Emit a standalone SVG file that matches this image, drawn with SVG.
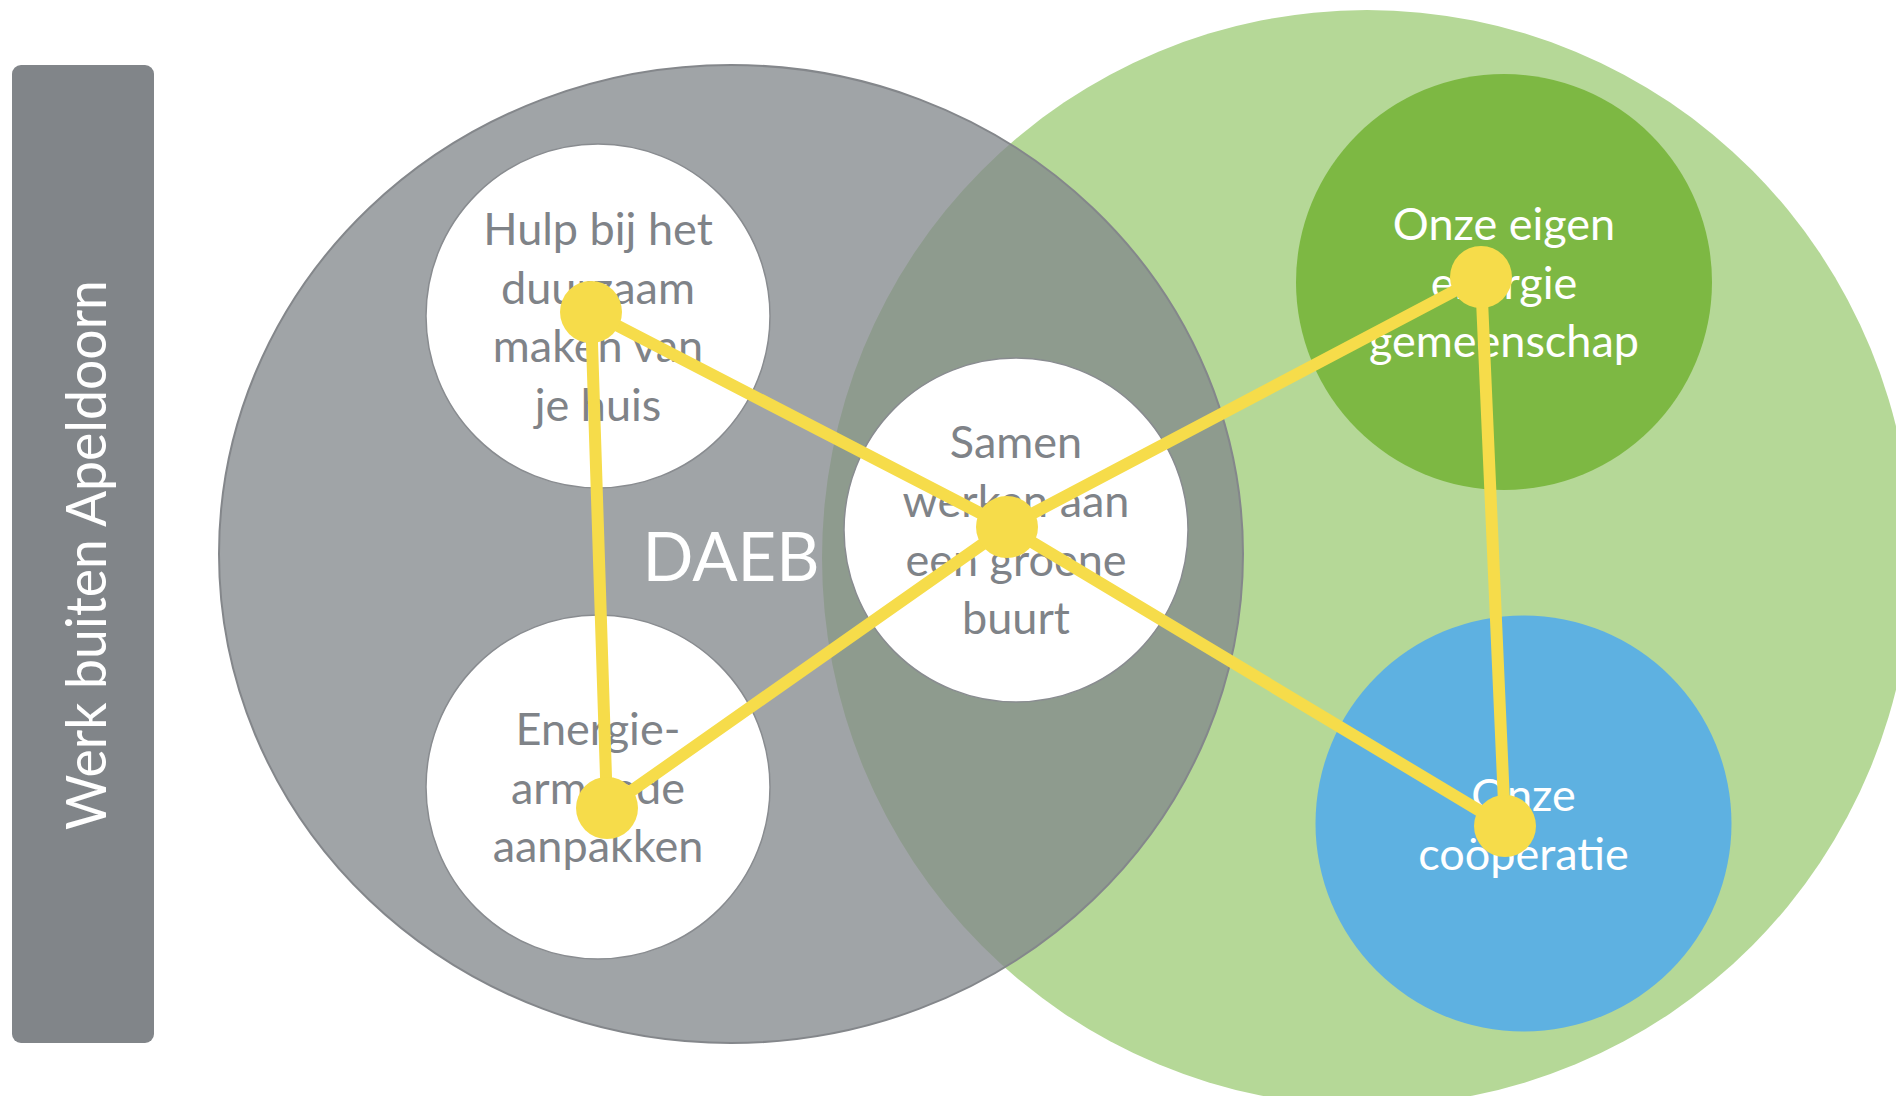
<svg xmlns="http://www.w3.org/2000/svg" width="1896" height="1096" viewBox="0 0 1896 1096">
  <style>
    .lbl { font-family: Lato, "Liberation Sans", sans-serif; font-size: 45px; text-anchor: middle; }
    .dark { fill: #7f8388; }
    .light { fill: #ffffff; }
    .inner { fill: #ffffff; stroke: #898c90; stroke-width: 1.5; }
    .link { stroke: #f6dc4a; stroke-width: 12; stroke-linecap: round; fill: none; }
    .dot { fill: #f6dc4a; }
  </style>
  <rect width="1896" height="1096" fill="#ffffff"/>

  <g id="bar">
    <rect x="12" y="65" width="142" height="978" rx="9" ry="9" fill="#818589"/>
    <text transform="translate(106,555) rotate(-90)" font-family="Lato, 'Liberation Sans', sans-serif" font-size="56" fill="#ffffff" text-anchor="middle" textLength="550" lengthAdjust="spacingAndGlyphs">Werk buiten Apeldoorn</text>
  </g>

  <g id="region-green">
    <ellipse cx="1367" cy="558" rx="545" ry="548" fill="#b5d897"/>
  </g>

  <g id="region-daeb">
    <ellipse cx="731" cy="554" rx="512" ry="489" fill="#82878b" fill-opacity="0.76" stroke="#84878b" stroke-width="2"/>
    <text x="731" y="581" font-family="Lato, 'Liberation Sans', sans-serif" font-size="67" fill="#ffffff" text-anchor="middle">DAEB</text>
  </g>

  <g id="node-hulp">
    <circle class="inner" cx="598" cy="316" r="172"/>
    <text class="lbl dark"><tspan x="598" y="245">Hulp bij het</tspan><tspan x="598" y="303.5">duurzaam</tspan><tspan x="598" y="362">maken van</tspan><tspan x="598" y="420.5">je huis</tspan></text>
  </g>

  <g id="node-armoede">
    <circle class="inner" cx="598" cy="787" r="172"/>
    <text class="lbl dark"><tspan x="598" y="745">Energie-</tspan><tspan x="598" y="803.5">armoede</tspan><tspan x="598" y="862">aanpakken</tspan></text>
  </g>

  <g id="node-samen">
    <circle class="inner" cx="1016" cy="530" r="172"/>
    <text class="lbl dark"><tspan x="1016" y="458">Samen</tspan><tspan x="1016" y="517">werken aan</tspan><tspan x="1016" y="575.5">een groene</tspan><tspan x="1016" y="634">buurt</tspan></text>
  </g>

  <g id="node-gemeenschap">
    <circle cx="1504" cy="282" r="208" fill="#7db843"/>
    <text class="lbl light"><tspan x="1504" y="240">Onze eigen</tspan><tspan x="1504" y="299">energie</tspan><tspan x="1504" y="357">gemeenschap</tspan></text>
  </g>

  <g id="node-cooperatie">
    <circle cx="1523.5" cy="823.5" r="208" fill="#5eb1e1"/>
    <text class="lbl light"><tspan x="1523.5" y="811">Onze</tspan><tspan x="1523.5" y="870">coöperatie</tspan></text>
  </g>

  <g id="connectors">
    <line class="link" x1="591" y1="312" x2="1007" y2="527"/>
    <line class="link" x1="591" y1="312" x2="607" y2="808"/>
    <line class="link" x1="607" y1="808" x2="1007" y2="527"/>
    <line class="link" x1="1007" y1="527" x2="1481" y2="277"/>
    <line class="link" x1="1007" y1="527" x2="1505" y2="826"/>
    <line class="link" x1="1481" y1="277" x2="1505" y2="826"/>
    <circle class="dot" cx="591" cy="312" r="31"/>
    <circle class="dot" cx="607" cy="808" r="31"/>
    <circle class="dot" cx="1007" cy="527" r="31"/>
    <circle class="dot" cx="1481" cy="277" r="31"/>
    <circle class="dot" cx="1505" cy="826" r="31"/>
  </g>
</svg>
